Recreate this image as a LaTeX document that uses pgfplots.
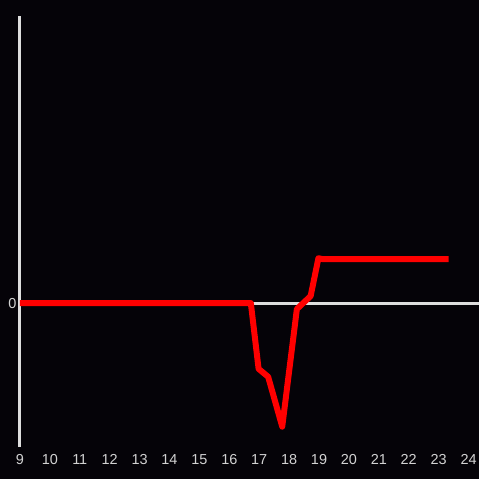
\documentclass[border=0pt]{standalone}
\usepackage{fontspec}
\setmainfont{Liberation Sans}
\usepackage{pgfplots}
\pgfplotsset{compat=1.18}
\definecolor{bgc}{RGB}{5,3,8}
\definecolor{axc}{RGB}{222,222,222}
\definecolor{txc}{RGB}{210,210,210}
\begin{document}
\begin{tikzpicture}
\fill[bgc] (-20pt,-32pt) rectangle (460pt,448pt);
\begin{axis}[
    scale only axis,
    width=460pt, height=432pt,
    xmin=9, xmax=24.333,
    ymin=-14.4, ymax=28.8,
    axis lines*=left,
    x axis line style={draw=none},
    y axis line style={draw=axc, line width=3pt},
    xtick={9,10,...,24},
    ytick={0},
    major tick length=0pt,
    tick style={draw=none},
    /pgf/number format/assume math mode=true,
    typeset ticklabels with strut,
    tick label style={font=\fontsize{14.5}{16}\selectfont, text=txc},
    xticklabel style={yshift=-3pt},
    yticklabel style={yshift=-2.5pt},
    clip=false,
]
\addplot[axc, line width=3pt] coordinates {(9,0) (24.333,0)};
\addplot[red, line width=6pt, line join=round] coordinates {
    (9,0) (16.72,0) (16.98,-6.6) (17.3,-7.4) (17.77,-12.4)
    (18.26,-0.6) (18.72,0.7) (18.98,4.5) (19.13,4.4) (23.33,4.4)
};
\end{axis}
\end{tikzpicture}
\end{document}
